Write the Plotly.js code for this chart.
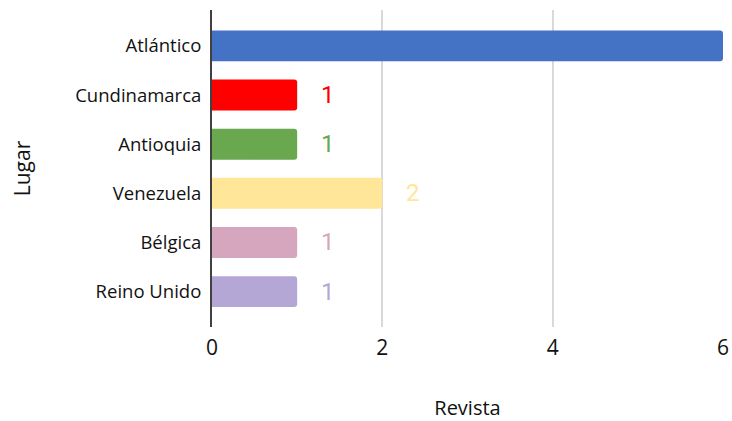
<!DOCTYPE html>
<html>
<head>
<meta charset="utf-8">
<script src="https://cdn.plot.ly/plotly-3.0.1.min.js"></script>
<style>html,body{margin:0;padding:0;background:#fff;}#chart{width:732px;height:421px;}</style>
</head>
<body>
<div id="chart"></div>
<script>
const categories = ["Atlántico", "Cundinamarca", "Antioquia", "Venezuela", "Bélgica", "Reino Unido"];
const values = [6, 1, 1, 2, 1, 1];
const barColors = ["#4472C4", "#FF0000", "#6AA84F", "#FFE699", "#D5A6BD", "#B4A7D6"];
const xTicks = [0, 2, 4, 6];
const xTitle = "Revista";
const yTitle = "Lugar";

const trace = {
  type: "bar",
  orientation: "h",
  y: categories,
  x: values,
  marker: {color: barColors, line: {width: 0}},
  hoverinfo: "none"
};

const annotations = categories
  .map((c, i) => ({c, v: values[i], col: barColors[i]}))
  .filter(d => d.v < xTicks[xTicks.length - 1])
  .map(d => ({
    x: d.v, y: d.c, xref: "x", yref: "y",
    text: String(d.v), showarrow: false,
    xanchor: "left", xshift: 22,
    font: {family: "Roboto", size: 24, color: d.col}
  }));

const layout = {
  width: 732, height: 421,
  margin: {l: 212, r: 9, t: 10, b: 94},
  paper_bgcolor: "#fff", plot_bgcolor: "#fff",
  showlegend: false,
  bargap: 0.37,
  barcornerradius: 3,
  xaxis: {
    range: [0, 6], tickvals: xTicks, ticktext: xTicks.map(String),
    showgrid: true, gridcolor: "#D9D9D9", gridwidth: 2,
    zeroline: false, showline: false, ticks: "",
    ticklabelstandoff: 6,
    tickfont: {family: "Open Sans", size: 21, color: "#111"},
    title: {text: xTitle, font: {family: "Open Sans", size: 20, color: "#111"}, standoff: 44},
    fixedrange: true
  },
  yaxis: {
    type: "category",
    categoryorder: "array", categoryarray: categories,
    range: [5.72, -0.73],
    showgrid: false, zeroline: false,
    showline: true, linecolor: "#404040", linewidth: 2,
    ticks: "", ticklabelstandoff: 5,
    tickfont: {family: "Open Sans", size: 18.5, color: "#111"},
    title: {text: yTitle, font: {family: "Open Sans", size: 21, color: "#111"}, standoff: 39},
    fixedrange: true
  },
  annotations: annotations
};

Plotly.newPlot("chart", [trace], layout, {staticPlot: true, displayModeBar: false});
</script>
</body>
</html>
